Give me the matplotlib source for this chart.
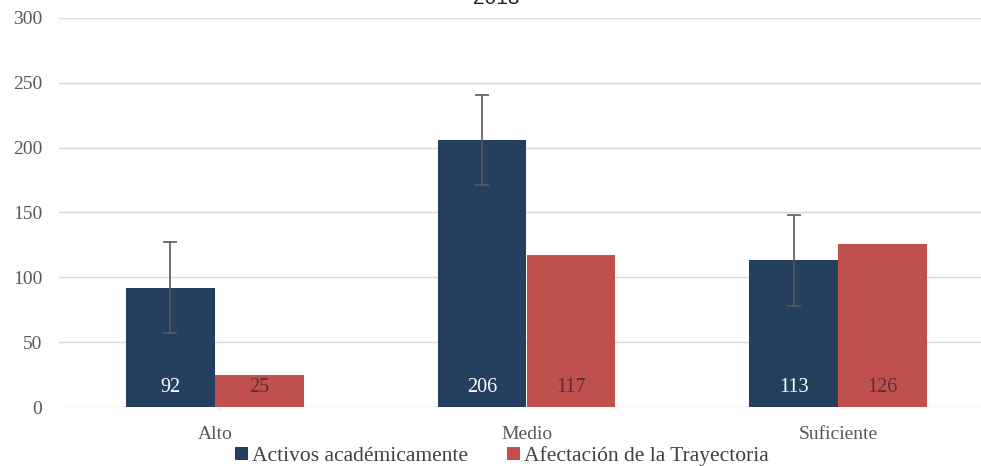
import numpy as np
from matplotlib import pyplot as plt

# data
categories = ["Alto", "Medio", "Suficiente"]
activos = [92, 206, 113]
afectacion = [25, 117, 126]
activos_err = [35, 35, 35]
series_names = ["Activos académicamente", "Afectación de la Trayectoria"]
yticks = [0, 50, 100, 150, 200, 250, 300]

blue = "#243F60"
red = "#C0504D"
serif = ["Liberation Serif", "DejaVu Serif"]

fig = plt.figure(figsize=(9.81, 4.66), dpi=100)
ax = fig.add_axes([59 / 981, 59 / 466, 935 / 981, 389 / 466])

x = np.arange(len(categories))
w = 0.285

b1 = ax.bar(x - w / 2, activos, w, color=blue, label=series_names[0], zorder=2)
b2 = ax.bar(x + w / 2, afectacion, w, color=red, label=series_names[1], zorder=2)
ax.errorbar(x - w / 2, activos, yerr=activos_err, fmt="none", ecolor="#595959",
            elinewidth=1.2, capsize=5, capthick=1.2, zorder=3)

# value labels near the bottom of each bar
for xi, v in zip(x - w / 2, activos):
    ax.text(xi, 15, str(v), ha="center", va="center", color="white",
            family=serif, fontsize=14.5, zorder=4)
for xi, v in zip(x + w / 2, afectacion):
    ax.text(xi, 15, str(v), ha="center", va="center", color="#5a3030",
            family=serif, fontsize=14.5, zorder=4)

ax.set_xlim(-0.5, 2.5)
ax.set_ylim(0, 300)
ax.set_yticks(yticks)
ax.set_xticks(x)
ax.set_xticklabels(categories)
ax.grid(axis="y", color="#d9d9d9", linewidth=1, zorder=0)
for s in ax.spines.values():
    s.set_visible(False)
ax.tick_params(length=0, labelsize=14, colors="#595959", pad=12)
ax.tick_params(axis="x", pad=14)
for lab in ax.get_xticklabels() + ax.get_yticklabels():
    lab.set_family(serif)

# title is clipped by the top edge in the reference
fig.text(496 / 981, 1 - 4 / 466, "2018", ha="center", va="baseline",
         fontsize=15, family=["Liberation Sans", "DejaVu Sans"], color="#222222")

fig.legend(handles=[b1, b2], loc="center", bbox_to_anchor=(502 / 981, 1 - 456 / 466),
           ncol=2, frameon=False, handlelength=0.6, handleheight=0.6,
           handletextpad=0.2, columnspacing=1.8,
           prop={"family": serif, "size": 15.5}, labelcolor="#404040")

fig.savefig("out.png", dpi=100)
